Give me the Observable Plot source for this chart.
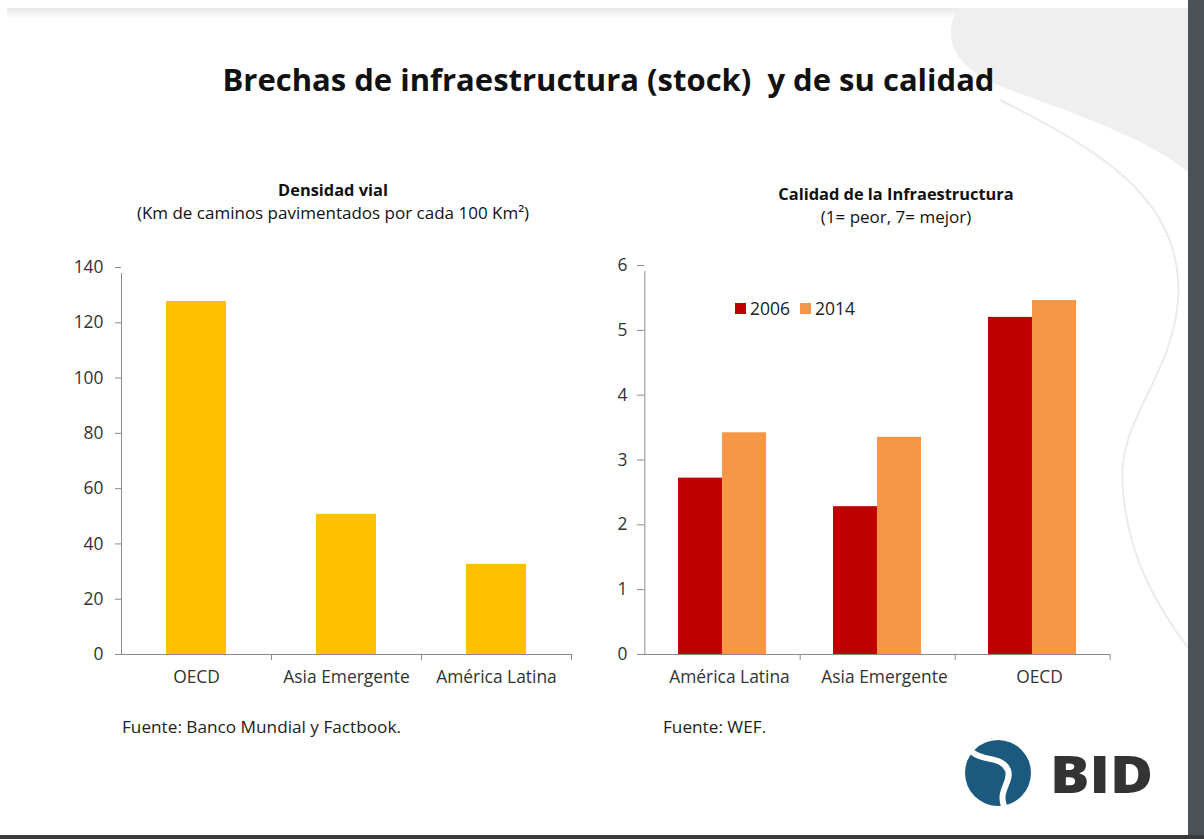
<!DOCTYPE html>
<html><head><meta charset="utf-8">
<script src="https://cdn.jsdelivr.net/npm/d3@7"></script>
<script src="https://cdn.jsdelivr.net/npm/@observablehq/plot@0.6"></script>
<style>
body{margin:0;background:#fff;font-family:"Open Sans",sans-serif;}
#slide{position:relative;width:1204px;height:839px;overflow:hidden;background:#fff;}
.abs{position:absolute;white-space:nowrap;}
.title{left:0;width:1217px;top:58px;text-align:center;font-weight:700;font-size:31px;line-height:42px;color:#111;}
.sub{text-align:center;color:#111;font-size:17px;line-height:23px;}
.sub b{font-weight:700;font-size:16.4px;}
.src{font-size:17.2px;line-height:22px;color:#222;}
.legend{display:flex;align-items:center;font-size:17.5px;color:#222;}
.legend span.sw{display:inline-block;width:11px;height:11px;margin-right:4px;}
.legend span.lab{margin-right:10px;}
</style></head><body><div id="slide">
<svg class="abs" style="left:0;top:0" width="1204" height="839">
  <defs><linearGradient id="tg" x1="0" y1="0" x2="0" y2="1"><stop offset="0" stop-color="#e8e8e8"/><stop offset="1" stop-color="#ffffff"/></linearGradient></defs>
  <rect x="7" y="8" width="1181" height="11" fill="url(#tg)"/>
  <path d="M958 8 C940 40,955 70,1010 90 C1080 115,1150 140,1188 172 L1188 8 Z" fill="#efefef"/>
  <path d="M1000 100 C1100 150,1185 200,1178 300 C1172 380,1115 420,1123 490 C1128 560,1160 610,1188 648" fill="none" stroke="#ebebeb" stroke-width="2"/>
  <rect x="1188" y="0" width="16" height="839" fill="#4b5157"/>
  <rect x="0" y="835" width="1204" height="4" fill="#3a3a3a"/>
</svg>
<div class="abs title">Brechas de infraestructura (stock)&nbsp; y de su calidad</div>
<div class="abs sub" style="left:133px;width:400px;top:178px;"><b>Densidad vial</b><br>(Km de caminos pavimentados por cada 100 Km²)</div>
<div class="abs sub" style="left:746px;width:300px;top:182px;"><b>Calidad de la Infraestructura</b><br>(1= peor, 7= mejor)</div>
<div id="left" class="abs" style="left:0;top:250px;"></div>
<div id="right" class="abs" style="left:600px;top:250px;"></div>
<div id="legend" class="abs legend" style="left:735px;top:296px;"></div>
<div class="abs src" style="left:122px;top:716px;">Fuente: Banco Mundial y Factbook.</div>
<div class="abs src" style="left:663px;top:716px;">Fuente: WEF.</div>
<svg class="abs" style="left:950px;top:730px" width="220" height="90">
  <circle cx="48" cy="43" r="33" fill="#1b5a7e"/>
  <path d="M22 22 C34 32,52 26,58 40 C62 52,48 60,54 76" fill="none" stroke="#fff" stroke-width="6"/>
  <path d="M36 33 L46 35" stroke="#1b5a7e" stroke-width="3"/>
  <text x="100" y="63" font-family="Open Sans" font-weight="800" font-size="52" fill="#333" textLength="103" lengthAdjust="spacingAndGlyphs">BID</text>
</svg>
</div>
<script>
const roadCategories = ["OECD", "Asia Emergente", "América Latina"];
const roadDensity = [127.7, 50.7, 32.6];
const roadTicks = [0, 20, 40, 60, 80, 100, 120, 140];

const qualityCategories = ["América Latina", "Asia Emergente", "OECD"];
const years = ["2006", "2014"];
const quality2006 = [2.72, 2.28, 5.2];
const quality2014 = [3.42, 3.35, 5.46];
const qualityTicks = [0, 1, 2, 3, 4, 5, 6];

const roadColor = "#FFC000";
const yearColors = ["#C00000", "#F79646"];
const axisGray = "#8c8c8c";
const textColor = "#333333";
const font = "'Open Sans', sans-serif";

const roadData = roadCategories.map((c, i) => ({region: c, value: roadDensity[i]}));
const qualityData = qualityCategories.flatMap((c, i) => [
  {region: c, year: years[0], value: quality2006[i]},
  {region: c, year: years[1], value: quality2014[i]}
]);

// Left chart
const lw = 600, lh = 460, lml = 121, lmr = 29;
const lStep = (lw - lml - lmr) / 3;
const left = Plot.plot({
  width: lw, height: lh, marginLeft: lml, marginRight: lmr, marginTop: 17, marginBottom: 56,
  style: {fontFamily: font, fontSize: "17.4px", color: textColor, background: "transparent", overflow: "visible"},
  x: {domain: roadCategories, paddingInner: 0.6, paddingOuter: 0.3, label: null},
  y: {domain: [0, 140], label: null},
  marks: [
    Plot.barY(roadData, {x: "region", y: "value", fill: roadColor}),
    Plot.ruleY([0], {stroke: axisGray}),
    Plot.ruleX([roadCategories[0]], {x: d => d, y1: 0, y2: 140, dx: -lStep / 2, insetBottom: -6, stroke: axisGray}),
    Plot.ruleX(roadCategories, {x: d => d, y1: 0, y2: 0, dx: lStep / 2, insetBottom: -6, stroke: axisGray}),
    Plot.axisX({tickSize: 0, tickPadding: 16, fill: textColor}),
    Plot.axisY({ticks: roadTicks, tickSize: 6, tickPadding: 12, stroke: axisGray, fill: textColor, tickFormat: d => d})
  ]
});
document.getElementById("left").appendChild(left);

// Right chart
const rw = 540, rh = 460, rml = 44, rmr = 30;
const rStep = (rw - rml - rmr) / 3;
const rPadIn = 0.433;
const half = rStep * (1 - rPadIn) / 2;
const color = {domain: years, range: yearColors};
const right = Plot.plot({
  width: rw, height: rh, marginLeft: rml, marginRight: rmr, marginTop: 15, marginBottom: 56,
  style: {fontFamily: font, fontSize: "17.4px", color: textColor, background: "transparent", overflow: "visible"},
  x: {domain: qualityCategories, paddingInner: rPadIn, paddingOuter: rPadIn / 2, label: null},
  y: {domain: [0, 6], label: null},
  color,
  marks: [
    Plot.barY(qualityData.filter(d => d.year === years[0]), {x: "region", y: "value", fill: "year", insetRight: half}),
    Plot.barY(qualityData.filter(d => d.year === years[1]), {x: "region", y: "value", fill: "year", insetLeft: half}),
    Plot.ruleY([0], {stroke: axisGray}),
    Plot.ruleX([qualityCategories[0]], {x: d => d, y1: 0, y2: 6, dx: -rStep / 2, insetBottom: -6, stroke: axisGray}),
    Plot.ruleX(qualityCategories, {x: d => d, y1: 0, y2: 0, dx: rStep / 2, insetBottom: -6, stroke: axisGray}),
    Plot.axisX({tickSize: 0, tickPadding: 16, dx: 7, fill: textColor}),
    Plot.axisY({ticks: qualityTicks, tickSize: 7, tickPadding: 10, stroke: axisGray, fill: textColor, tickFormat: d => d})
  ]
});
document.getElementById("right").appendChild(right);

// Legend
const leg = document.getElementById("legend");
years.forEach((y, i) => {
  const sw = document.createElement("span"); sw.className = "sw"; sw.style.background = yearColors[i];
  const lab = document.createElement("span"); lab.className = "lab"; lab.textContent = y;
  leg.appendChild(sw); leg.appendChild(lab);
});
</script>
</body></html>
